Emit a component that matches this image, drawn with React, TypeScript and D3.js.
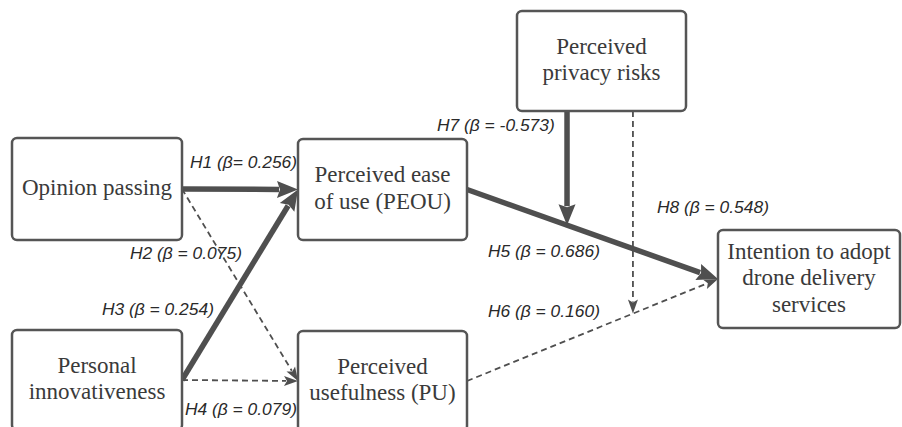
import { useEffect, useRef } from 'react'
import * as d3 from 'd3'

// constructs in the model
const nodeIds = ['op', 'pi', 'peou', 'pu', 'ppr', 'int']
const nodeLines = [
  ['Opinion passing'],
  ['Personal', 'innovativeness'],
  ['Perceived ease', 'of use (PEOU)'],
  ['Perceived', 'usefulness (PU)'],
  ['Perceived', 'privacy risks'],
  ['Intention to adopt', 'drone delivery', 'services'],
]

// hypotheses / paths
const hypotheses = ['H1', 'H2', 'H3', 'H4', 'H5', 'H6', 'H7', 'H8']
const betas = [0.256, 0.075, 0.254, 0.079, 0.686, 0.16, -0.573, 0.548]
const supported = [true, false, true, false, true, false, true, false]
const pathFrom = ['op', 'op', 'pi', 'pi', 'peou', 'pu', 'ppr', 'ppr']
// H7 and H8 moderate the H5 / H6 paths
const pathTo = ['peou', 'pu', 'peou', 'pu', 'int', 'int', 'H5', 'H6']

const W = 902
const H = 427
const LINE = '#4f4f4f'

// box layout (x, y, w, h)
const boxes = {
  op: [12, 138, 170, 102],
  pi: [12, 330, 170, 100],
  peou: [298, 139, 169, 101],
  pu: [298, 331, 169, 100],
  ppr: [517, 11, 169, 100],
  int: [718, 230, 182, 98],
}

// where the moderating arrows leave the privacy box (fraction of width)
const modAt = { H7: 0.296, H8: 0.686 }

// label anchor (text start, baseline)
const labelPos = {
  H1: [190, 168], H2: [130, 259], H3: [102, 315], H4: [185, 415],
  H5: [488, 257], H6: [488, 317], H7: [437, 131], H8: [657, 213],
}

export default function App() {
  const svgRef = useRef(null)

  useEffect(() => {
    document.body.style.margin = '0'
    const svg = d3.select(svgRef.current)
    svg.selectAll('*').remove()

    const rightMid = (b) => [b[0] + b[2], b[1] + b[3] / 2]
    const leftMid = (b) => [b[0], b[1] + b[3] / 2]

    const ends = {}
    hypotheses.forEach((h, i) => {
      const a = boxes[pathFrom[i]]
      const t = pathTo[i]
      if (boxes[t]) ends[h] = [rightMid(a), leftMid(boxes[t])]
    })
    hypotheses.forEach((h, i) => {
      const t = pathTo[i]
      if (!boxes[t]) {
        const a = boxes[pathFrom[i]]
        const x = a[0] + a[2] * modAt[h]
        const [[x0, y0], [x1, y1]] = ends[t]
        const y = y0 + (y1 - y0) * (x - x0) / (x1 - x0)
        ends[h] = [[x, a[1] + a[3]], [x, y]]
      }
    })

    const fmt = d3.format('.3f')
    const g = svg.append('g')

    hypotheses.forEach((h, i) => {
      const [[x0, y0], [x1, y1]] = ends[h]
      const strong = supported[i]
      const len = strong ? 21 : 14
      const hw = strong ? 8.5 : 5
      const ang = Math.atan2(y1 - y0, x1 - x0)
      const ux = Math.cos(ang), uy = Math.sin(ang)
      const bx = x1 - ux * len, by = y1 - uy * len

      g.append('line')
        .attr('x1', x0).attr('y1', y0)
        .attr('x2', bx + ux * 2).attr('y2', by + uy * 2)
        .attr('stroke', LINE)
        .attr('stroke-width', strong ? 5.5 : 1.8)
        .attr('stroke-dasharray', strong ? null : '6,4')

      const pts = [
        [x1, y1],
        [bx - uy * hw, by + ux * hw],
        [bx + ux * 3, by + uy * 3],
        [bx + uy * hw, by - ux * hw],
      ]
      g.append('polygon')
        .attr('points', pts.map(p => p.join(',')).join(' '))
        .attr('fill', LINE)
    })

    // boxes
    nodeIds.forEach((id, i) => {
      const [x, y, w, h] = boxes[id]
      g.append('rect')
        .attr('x', x).attr('y', y).attr('width', w).attr('height', h)
        .attr('rx', 5)
        .attr('fill', '#fff').attr('stroke', '#555').attr('stroke-width', 2.5)
      const lines = nodeLines[i]
      const cy = y + h / 2
      const first = cy - (lines.length - 1) * 13.25 + 6
      lines.forEach((t, j) => {
        g.append('text')
          .attr('x', x + w / 2).attr('y', first + j * 26.5)
          .attr('text-anchor', 'middle')
          .attr('font-family', '"Liberation Serif", serif')
          .attr('font-size', 23)
          .attr('fill', '#3a3a3a')
          .text(t)
      })
    })

    // labels
    hypotheses.forEach((h, i) => {
      const [lx, ly] = labelPos[h]
      const sep = i === 0 ? '= ' : ' = '
      g.append('text')
        .attr('x', lx).attr('y', ly)
        .attr('font-family', '"Liberation Sans", Arial, sans-serif')
        .attr('font-style', 'italic')
        .attr('font-size', 17.4)
        .attr('fill', '#2a2a2a')
        .text(`${h} (β${sep}${fmt(betas[i]).replace('\u2212', '-')})`)
    })
  }, [])

  return <svg ref={svgRef} width={W} height={H} style={{ display: 'block', background: '#fff' }} />
}
